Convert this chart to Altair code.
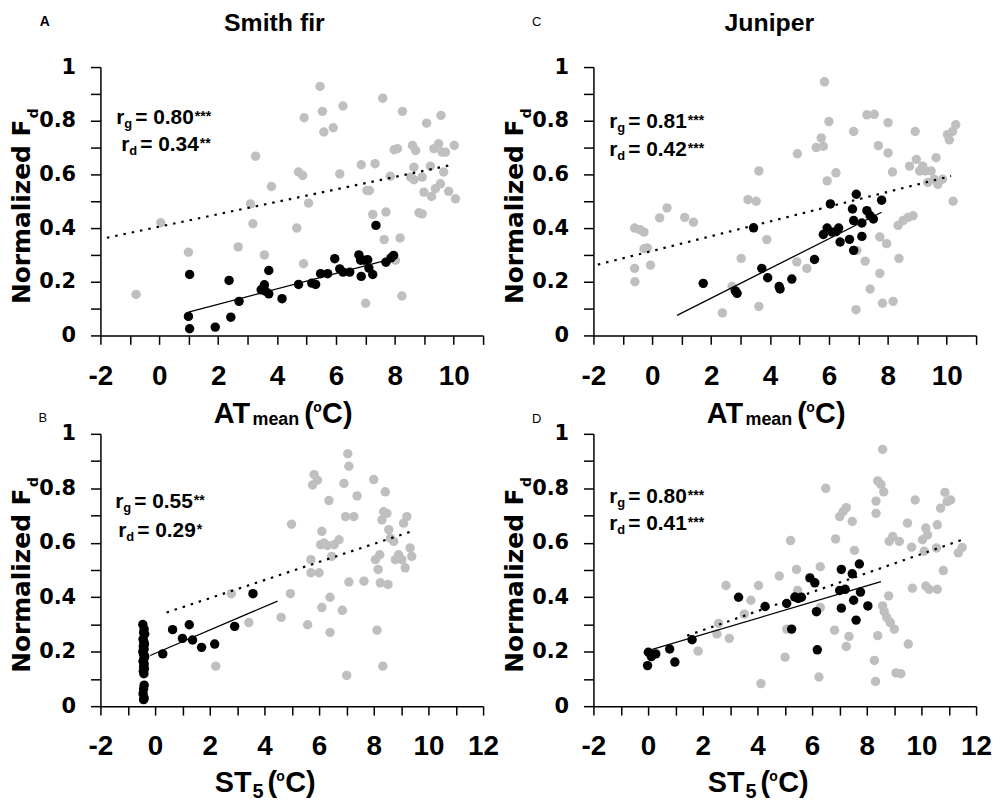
import altair as alt
import pandas as pd

# ---------------- data ----------------
# Panel A: Smith fir, AT_mean
A_GRAY_X = [-0.79, 0.05, 0.99, 2.68, 3.10, 3.18, 3.27, 3.57, 3.81, 4.67, 4.73, 4.87, 4.90, 4.92, 5.07,
            5.46, 5.54, 5.59, 5.91, 6.13, 6.24, 6.86, 7.01, 7.05, 7.14, 7.25, 7.33, 7.59, 7.70, 7.64,
            7.85, 8.02, 7.98, 8.09, 8.18, 8.26, 8.24, 8.54, 8.60, 8.65, 8.65, 8.71, 8.82, 8.93, 8.93,
            8.99, 9.08, 9.21, 9.25, 9.33, 9.38, 9.49, 9.55, 9.57, 9.61, 9.66, 9.72, 9.83, 10.02, 10.06]
A_GRAY_Y = [0.153, 0.42, 0.31, 0.33, 0.49, 0.416, 0.668, 0.30, 0.555, 0.40, 0.609, 0.596, 0.267, 0.811, 0.493,
            0.928, 0.835, 0.758, 0.774, 0.602, 0.855, 0.636, 0.12, 0.54, 0.54, 0.451, 0.64, 0.884, 0.46, 0.357,
            0.593, 0.28, 0.692, 0.696, 0.363, 0.835, 0.147, 0.59, 0.708, 0.627, 0.58, 0.689, 0.457, 0.59, 0.453,
            0.534, 0.791, 0.631, 0.518, 0.696, 0.547, 0.714, 0.565, 0.82, 0.683, 0.609, 0.683, 0.537, 0.708, 0.509]
A_BLACK_X = [1.03, 0.99, 1.03, 1.90, 2.37, 2.43, 2.71, 3.46, 3.57, 3.61, 3.72, 3.72, 4.17, 4.73, 5.18,
             5.31, 5.48, 5.72, 5.96, 6.13, 6.24, 6.47, 6.78, 6.84, 6.86, 6.97, 7.08, 7.12, 7.25, 7.36,
             7.70, 7.87, 7.96]
A_BLACK_Y = [0.227, 0.071, 0.025, 0.031, 0.205, 0.068, 0.127, 0.17, 0.189, 0.165, 0.155, 0.242, 0.137, 0.19, 0.195,
             0.19, 0.23, 0.23, 0.286, 0.248, 0.236, 0.236, 0.30, 0.28, 0.22, 0.28, 0.282, 0.251, 0.227, 0.41,
             0.273, 0.289, 0.298]
A_DOT_X = [-1.78, 10.0]
A_DOT_Y = [0.364, 0.637]
A_SOL_X = [0.99, 7.93]
A_SOL_Y = [0.087, 0.286]

# Panel C: Juniper, AT_mean
C_GRAY_X = [-0.60, -0.42, -0.28, -0.60, -0.59, -0.28, -0.17, -0.06, 0.25, 0.50, 1.10, 1.40, 2.38, 2.71, 3.02,
            3.25, 3.53, 3.62, 3.62, 3.89, 4.93, 4.91, 5.25, 5.57, 5.74, 5.81, 5.85, 5.94, 6.00, 6.24,
            6.84, 6.92, 6.95, 7.23, 7.29, 7.40, 7.54, 7.68, 7.73, 7.73, 7.82, 7.96, 8.01, 8.01, 8.16,
            8.18, 8.35, 8.38, 8.52, 8.69, 8.74, 8.86, 8.93, 8.97, 9.08, 9.19, 9.27, 9.36, 9.47, 9.58,
            9.64, 9.70, 9.86, 10.03, 10.09, 10.20, 10.31, 10.22]
C_GRAY_Y = [0.40, 0.394, 0.385, 0.25, 0.20, 0.323, 0.326, 0.262, 0.438, 0.475, 0.44, 0.422, 0.084, 0.182, 0.287,
            0.506, 0.50, 0.613, 0.108, 0.357, 0.677, 0.274, 0.25, 0.70, 0.736, 0.705, 0.945, 0.576, 0.797, 0.606,
            0.76, 0.096, 0.317, 0.277, 0.822, 0.173, 0.824, 0.707, 0.367, 0.231, 0.12, 0.342, 0.793, 0.68, 0.609,
            0.127, 0.41, 0.287, 0.428, 0.44, 0.631, 0.446, 0.76, 0.656, 0.613, 0.631, 0.613, 0.57, 0.613, 0.582,
            0.662, 0.563, 0.582, 0.748, 0.729, 0.76, 0.785, 0.50]
C_BLACK_X = [1.73, 2.82, 2.88, 3.44, 3.72, 3.92, 4.31, 4.34, 4.74, 5.51, 5.81, 5.94, 6.05, 6.11, 6.24,
             6.33, 6.38, 6.70, 6.80, 6.84, 6.84, 6.93, 7.12, 7.12, 7.29, 7.40, 7.51, 7.79]
C_BLACK_Y = [0.194, 0.166, 0.157, 0.401, 0.25, 0.215, 0.182, 0.173, 0.21, 0.283, 0.376, 0.40, 0.49, 0.385, 0.387,
             0.40, 0.348, 0.358, 0.471, 0.428, 0.317, 0.526, 0.419, 0.369, 0.465, 0.446, 0.434, 0.504]
C_DOT_X = [-1.85, 10.15]
C_DOT_Y = [0.264, 0.594]
C_SOL_X = [0.84, 7.79]
C_SOL_Y = [0.075, 0.459]

# Panel B: Smith fir, ST5
B_GRAY_X = [2.22, 2.79, 3.43, 4.61, 4.95, 4.99, 5.58, 5.70, 5.70, 5.76, 5.82, 5.94, 6.00, 6.06, 6.10,
            6.10, 6.18, 6.30, 6.36, 6.40, 6.40, 6.46, 6.55, 6.73, 6.85, 6.91, 6.97, 7.01, 7.05, 7.09,
            7.09, 7.27, 7.39, 7.64, 8.00, 8.06, 8.12, 8.16, 8.22, 8.24, 8.30, 8.33, 8.36, 8.42, 8.48,
            8.52, 8.55, 8.61, 8.73, 8.79, 8.91, 9.03, 9.09, 9.15, 9.21, 9.33, 9.39]
B_GRAY_Y = [0.147, 0.413, 0.307, 0.326, 0.413, 0.668, 0.299, 0.538, 0.49, 0.812, 0.85, 0.83, 0.49, 0.593, 0.362,
            0.642, 0.599, 0.59, 0.755, 0.271, 0.40, 0.55, 0.593, 0.611, 0.352, 0.818, 0.696, 0.113, 0.927, 0.881,
            0.456, 0.696, 0.772, 0.459, 0.832, 0.538, 0.279, 0.502, 0.556, 0.453, 0.684, 0.147, 0.714, 0.787, 0.708,
            0.447, 0.648, 0.617, 0.605, 0.538, 0.556, 0.538, 0.672, 0.508, 0.696, 0.581, 0.55]
B_BLACK_X = [-0.45, -0.40, -0.42, -0.38, -0.44, -0.41, -0.39, -0.43, -0.40, -0.45, -0.42, -0.38, -0.41, -0.44,
             -0.40, -0.42, -0.39, -0.43, -0.41, -0.40, -0.42, -0.44, -0.40, -0.42,
             0.28, 0.64, 1.00, 1.25, 1.37, 1.70, 2.18, 2.91, 3.58]
B_BLACK_Y = [0.30, 0.283, 0.27, 0.265, 0.246, 0.235, 0.228, 0.22, 0.21, 0.20, 0.19, 0.182, 0.174, 0.165,
             0.155, 0.145, 0.137, 0.128, 0.119, 0.077, 0.064, 0.046, 0.03, 0.024,
             0.192, 0.281, 0.249, 0.299, 0.243, 0.216, 0.228, 0.293, 0.413]
B_DOT_X = [0.42, 9.39]
B_DOT_Y = [0.344, 0.642]
B_SOL_X = [-0.18, 4.48]
B_SOL_Y = [0.186, 0.386]

# Panel D: Juniper, ST5
D_GRAY_X = [1.83, 2.58, 2.85, 2.52, 2.97, 3.52, 3.76, 4.04, 4.13, 4.80, 5.01, 5.21, 5.07, 5.43, 5.47,
            6.25, 6.30, 6.30, 6.50, 6.82, 6.86, 7.01, 7.13, 7.25, 7.25, 7.35, 7.47, 7.55, 8.28, 8.32,
            8.34, 8.34, 8.40, 8.40, 8.52, 8.58, 8.62, 8.58, 8.64, 8.73, 8.80, 8.82, 8.86, 8.95, 9.01,
            9.07, 9.25, 9.19, 9.49, 9.52, 9.64, 9.67, 9.77, 10.04, 10.10, 10.16, 10.16, 10.22, 10.28, 10.55,
            10.58, 10.58, 10.70, 10.80, 10.86, 10.94, 11.07, 11.35, 11.49]
D_GRAY_Y = [0.202, 0.304, 0.443, 0.265, 0.249, 0.338, 0.389, 0.443, 0.083, 0.478, 0.18, 0.608, 0.283, 0.502, 0.425,
            0.107, 0.512, 0.362, 0.80, 0.279, 0.614, 0.696, 0.714, 0.729, 0.219, 0.256, 0.678, 0.572, 0.168, 0.091,
            0.753, 0.708, 0.259, 0.827, 0.814, 0.943, 0.787, 0.368, 0.347, 0.326, 0.405, 0.605, 0.307, 0.623, 0.283,
            0.122, 0.119, 0.605, 0.672, 0.228, 0.584, 0.433, 0.757, 0.611, 0.569, 0.654, 0.441, 0.629, 0.429, 0.581,
            0.666, 0.429, 0.727, 0.498, 0.785, 0.751, 0.757, 0.563, 0.583]
D_BLACK_X = [-0.02, 0.01, 0.12, 0.28, 0.79, 0.98, 1.61, 3.31, 4.28, 5.07, 5.25, 5.37, 5.49, 5.61, 5.92,
             6.10, 6.16, 6.19, 7.01, 7.07, 7.07, 7.21, 7.47, 7.52, 7.61, 7.77, 7.73, 8.04]
D_BLACK_Y = [0.149, 0.198, 0.182, 0.192, 0.21, 0.162, 0.244, 0.40, 0.366, 0.377, 0.283, 0.401, 0.396, 0.40, 0.471,
             0.453, 0.347, 0.207, 0.425, 0.36, 0.502, 0.429, 0.486, 0.389, 0.316, 0.419, 0.522, 0.368]
D_DOT_X = [1.43, 11.61]
D_DOT_Y = [0.259, 0.615]
D_SOL_X = [0.0, 8.52]
D_SOL_Y = [0.204, 0.457]

Y_TICKS = [0, 0.1, 0.2, 0.3, 0.4, 0.5, 0.6, 0.7, 0.8, 0.9, 1]

SANS = "Liberation Sans"
DEJA = "DejaVu Sans"
GRAY = "#bfbfbf"
W = 385


def txt(s, x, y, size, font=SANS, bold=True, align="left", angle=None):
    kw = dict(align=align, baseline="alphabetic", font=font, fontSize=size,
              fontWeight="bold" if bold else "normal", color="black")
    if angle is not None:
        kw["angle"] = angle
    return alt.Chart(pd.DataFrame({"t": [s]})).mark_text(**kw).encode(
        x=alt.value(x), y=alt.value(y), text="t:N")


def panel(gx, gy, bx, by, dotx, doty, solx, soly, xmax, h, title, title_x,
          letter, letter_pos, letter_bold, xkind, ann):
    xs = alt.Scale(domain=[-2, xmax], nice=False, zero=False)
    ys = alt.Scale(domain=[0, 1], nice=False, zero=False)
    xaxis = alt.Axis(values=list(range(-2, xmax + 1)),
                     labelExpr="datum.value % 2 == 0 ? '' + datum.value : ''",
                     labelFont=SANS, labelFontSize=28, labelFontWeight="bold", labelColor="black",
                     labelPadding=18, labelOverlap=False, labelFlush=False,
                     tickSize=9, tickWidth=1.5, tickColor="black",
                     domainColor="black", domainWidth=1.5, grid=False, title=None)
    yaxis = alt.Axis(values=Y_TICKS, format="~g",
                     labelExpr="round(datum.value * 10) % 2 == 0 ? datum.label : ''",
                     labelFont=DEJA, labelFontSize=21, labelFontWeight="bold", labelColor="black",
                     labelPadding=15, labelOverlap=False, labelFlush=False,
                     tickSize=10, tickWidth=1.5, tickColor="black",
                     domainColor="black", domainWidth=1.5, grid=False, title=None)
    X = alt.X("x:Q", scale=xs, axis=xaxis)
    Y = alt.Y("y:Q", scale=ys, axis=yaxis)

    gray = alt.Chart(pd.DataFrame({"x": gx, "y": gy})).mark_circle(
        size=90, color=GRAY, opacity=1).encode(x=X, y=Y)
    black = alt.Chart(pd.DataFrame({"x": bx, "y": by})).mark_circle(
        size=90, color="black", opacity=1).encode(x=X, y=Y)
    dot = alt.Chart(pd.DataFrame({"x": dotx, "y": doty})).mark_line(
        color="black", strokeWidth=2.2, strokeDash=[2.5, 6]).encode(x=X, y=Y)
    sol = alt.Chart(pd.DataFrame({"x": solx, "y": soly})).mark_line(
        color="black", strokeWidth=1.3).encode(x=X, y=Y)

    layers = [gray, black, dot, sol]

    # anchor that fixes the top-left extent of each panel
    layers.append(alt.Chart(pd.DataFrame({"t": [0]})).mark_point(opacity=0, size=1).encode(
        x=alt.value(-92), y=alt.value(-56)))

    # correlation annotations
    for (sub, val, stars, x0, b) in ann:
        layers.append(txt("r", x0, b, 21))
        layers.append(txt(sub, x0 + 8, b + 4, 13))
        layers.append(txt(val, x0 + 19, b, 21))
        layers.append(txt(stars, x0 + 79, b - 3, 14))

    # x axis title
    base = h + (88 if xkind == "AT" else 86)
    if xkind == "AT":
        layers += [txt("AT", 114, base, 29), txt("mean", 153, base + 2, 18),
                   txt("(", 205, base, 29), txt("o", 214, base - 11, 14), txt("C)", 223, base, 29)]
    else:
        layers += [txt("ST", 115, base, 29), txt("5", 153, base + 6, 20),
                   txt("(", 168, base, 29), txt("o", 177, base - 11, 14), txt("C)", 186, base, 29)]

    # y axis title: "Normalized F" with subscript d
    ystart = h * 0.52 + 98
    layers.append(txt("Normalized F", -71, ystart, 25, font=DEJA, angle=270))
    layers.append(txt("d", -63, ystart - 187, 14, font=DEJA, angle=270))

    # panel letter and title
    layers.append(txt(letter, letter_pos[0], letter_pos[1], 14 if letter_bold else 13,
                      bold=letter_bold, align="center"))
    if title:
        layers.append(txt(title, title_x, -36, 25, align="center"))

    return alt.layer(*layers).properties(width=W, height=h)


pA = panel(A_GRAY_X, A_GRAY_Y, A_BLACK_X, A_BLACK_Y, A_DOT_X, A_DOT_Y, A_SOL_X, A_SOL_Y,
           11, 270, "Smith fir", 175, "A", (-56, -41), True, "AT",
           [("g", "= 0.80", "***", 16, 57.5), ("d", "= 0.34", "**", 21, 84)])
pC = panel(C_GRAY_X, C_GRAY_Y, C_BLACK_X, C_BLACK_Y, C_DOT_X, C_DOT_Y, C_SOL_X, C_SOL_Y,
           11, 270, "Juniper", 177, "C", (-57, -41), False, "AT",
           [("g", "= 0.81", "***", 16, 61), ("d", "= 0.42", "***", 16, 89)])
pB = panel(B_GRAY_X, B_GRAY_Y, B_BLACK_X, B_BLACK_Y, B_DOT_X, B_DOT_Y, B_SOL_X, B_SOL_Y,
           12, 274, None, 0, "B", (-58, -12), False, "ST",
           [("g", "= 0.55", "**", 15, 75), ("d", "= 0.29", "*", 18, 104)])
pD = panel(D_GRAY_X, D_GRAY_Y, D_BLACK_X, D_BLACK_Y, D_DOT_X, D_DOT_Y, D_SOL_X, D_SOL_Y,
           12, 274, None, 0, "D", (-57, -11), False, "ST",
           [("g", "= 0.80", "***", 16, 70), ("d", "= 0.41", "***", 16, 97)])

chart = alt.concat(pA, pC, pB, pD, columns=2, spacing={"row": 99, "column": 111},
                   bounds="flush").properties(padding=0).configure_view(stroke=None)

chart.save("out.html", embed_options={"renderer": "svg", "actions": False})
